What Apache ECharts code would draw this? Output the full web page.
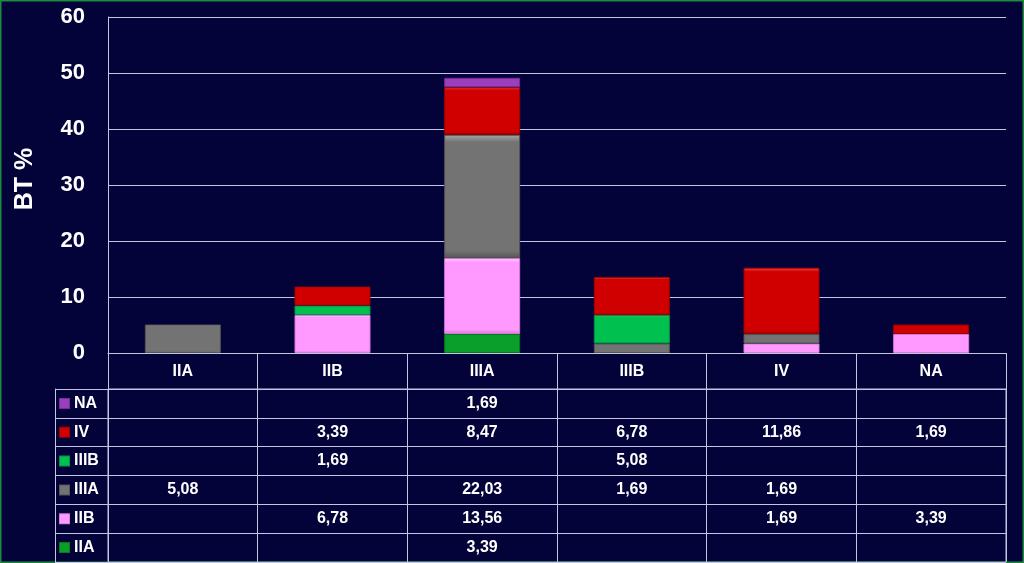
<!DOCTYPE html>
<html><head><meta charset="utf-8">
<script src="https://cdn.jsdelivr.net/npm/echarts@6/dist/echarts.min.js"></script>
<style>html,body{margin:0;padding:0;background:#03033a;}#c{width:1024px;height:563px;}</style>
</head><body><div id="c"></div>
<script>
const categories = ['IIA', 'IIB', 'IIIA', 'IIIB', 'IV', 'NA'];
const stages = ['IIA', 'IIB', 'IIIA', 'IIIB', 'IV', 'NA']; // bottom to top
const valIIA  = [null, null, 3.39, null, null, null];
const valIIB  = [null, 6.78, 13.56, null, 1.69, 3.39];
const valIIIA = [5.08, null, 22.03, 1.69, 1.69, null];
const valIIIB = [null, 1.69, null, 5.08, null, null];
const valIV   = [null, 3.39, 8.47, 6.78, 11.86, 1.69];
const valNA   = [null, null, 1.69, null, null, null];
const yMin = 0, yMax = 60, yStep = 10;
const yName = 'BT %';

const seriesValues = [valIIA, valIIB, valIIIA, valIIIB, valIV, valNA];
const colors = ['#0a9e2a', '#ff99ff', '#737373', '#00c050', '#d10000', '#9b3fbf'];
const borders = ['#067a1e', '#d77ad7', '#555555', '#00944a', '#9e0000', '#742d91'];
const lights = ['#3fd45e', '#ffd0ff', '#a8a8a8', '#4ff08c', '#ff4a4a', '#c77ae6'];
const gridCol = '#c4c4e4';
const font = 'Arial, "Liberation Sans", sans-serif';

const chart = echarts.init(document.getElementById('c'), null, {renderer: 'canvas'});

const rich = {};
stages.forEach((s, i) => {
  rich['m' + i] = {width: 9, height: 9, backgroundColor: colors[i], borderColor: borders[i], borderWidth: 1};
});
rich.t = {color: '#fff', fontSize: 16, fontWeight: 'bold', fontFamily: font, padding: [0, 0, 0, 5]};

function fillFor(i) {
  return new echarts.graphic.LinearGradient(0, 0, 0, 1, [
    {offset: 0, color: lights[i]}, {offset: 0.06, color: colors[i]},
    {offset: 0.94, color: colors[i]}, {offset: 1, color: borders[i]}
  ]);
}

const series = [];
seriesValues.forEach((vals, i) => {
  series.push({
    type: 'bar', name: stages[i], stack: 'all', xAxisIndex: 0, yAxisIndex: 0,
    barWidth: 76, data: vals,
    itemStyle: {color: fillFor(i), borderColor: borders[i], borderWidth: 1},
    silent: true
  });
});
const tableData = [];
seriesValues.forEach((vals, r) => {
  vals.forEach((v, c) => { if (v != null) tableData.push([c, r, v]); });
});
series.push({
  type: 'scatter', xAxisIndex: 1, yAxisIndex: 1, symbolSize: 0, silent: true,
  itemStyle: {opacity: 1},
  data: tableData,
  label: {show: true, position: 'inside', color: '#ffffff', opacity: 1, fontSize: 16, fontWeight: 'bold', fontFamily: font,
    formatter: p => p.value[2].toFixed(2).replace('.', ',')}
});

chart.setOption({
  backgroundColor: '#03033a',
  animation: false,
  grid: [
    {left: 108, right: 18, top: 17, bottom: 210, show: false},
    {left: 108, right: 18, top: 389, bottom: 1, show: true, borderColor: gridCol, borderWidth: 1, backgroundColor: 'transparent'}
  ],
  xAxis: [
    {type: 'category', gridIndex: 0, data: categories,
     axisLine: {show: true, lineStyle: {color: gridCol, width: 1}},
     axisTick: {show: true, interval: 0, length: 36, lineStyle: {color: gridCol}},
     axisLabel: {color: '#fff', fontSize: 16, fontWeight: 'bold', fontFamily: font, margin: 11, interval: 0},
     splitLine: {show: false}},
    {type: 'category', gridIndex: 1, data: categories, position: 'top',
     axisLine: {show: false}, axisTick: {show: false}, axisLabel: {show: false},
     splitLine: {show: true, interval: 0, lineStyle: {color: gridCol, width: 1}}}
  ],
  yAxis: [
    {type: 'value', gridIndex: 0, min: yMin, max: yMax, interval: yStep,
     name: yName, nameLocation: 'middle', nameGap: 70, nameRotate: 90,
     nameTextStyle: {color: '#fff', fontSize: 25, fontWeight: 'bold', fontFamily: font, padding: [0, 0, 0, 12]},
     axisLine: {show: true, lineStyle: {color: gridCol}},
     axisTick: {show: false},
     axisLabel: {color: '#fff', fontSize: 22, fontWeight: 'bold', fontFamily: font, margin: 23},
     splitLine: {show: true, lineStyle: {color: gridCol, width: 1}}},
    {type: 'category', gridIndex: 1, data: stages,
     axisLine: {show: true, lineStyle: {color: gridCol}},
     axisTick: {show: true, interval: 0, length: 53, lineStyle: {color: gridCol}},
     axisLabel: {align: 'left', margin: 48, interval: 0,
       formatter: (v, i) => '{m' + i + '|}{t|' + v + '}', rich: rich},
     splitLine: {show: true, interval: 0, lineStyle: {color: gridCol, width: 1}}},
    {type: 'category', gridIndex: 1, data: stages, position: 'left', offset: 53,
     axisLine: {show: true, lineStyle: {color: gridCol}},
     axisTick: {show: false}, axisLabel: {show: false}, splitLine: {show: false}}
  ],
  graphic: [
    {type: 'rect', shape: {x: 0.5, y: 0.5, width: 1023, height: 562}, silent: true,
     style: {fill: null, stroke: '#1f8a3e', lineWidth: 2}}
  ],
  series: series
});
</script></body></html>
